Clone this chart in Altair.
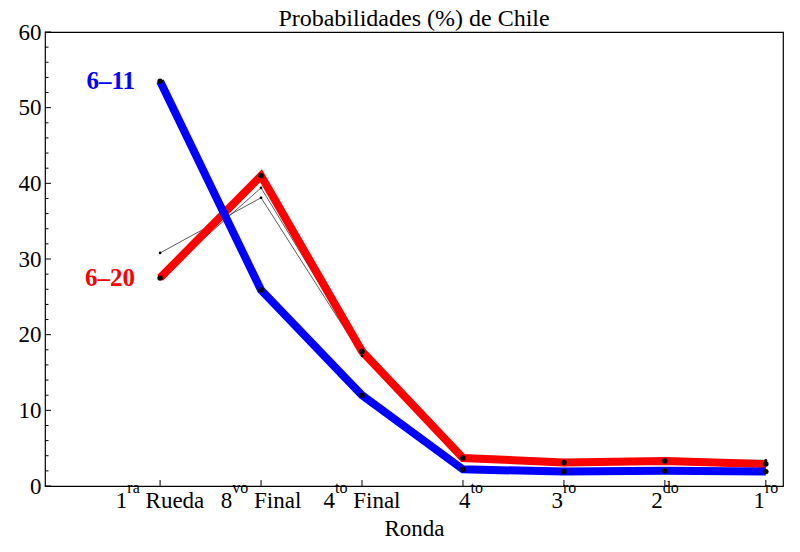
import altair as alt
import pandas as pd

# ---- data ----
rondas_base = ["1", "8", "4", "4", "3", "2", "1"]
rondas_sup = ["ra", "vo", "to", "to", "ro", "do", "ro"]
rondas_resto = ["Rueda", "Final", "Final", "", "", "", ""]
serie_611 = [53.5, 25.9, 12.0, 2.2, 1.9, 2.0, 1.9]
serie_620 = [27.5, 41.0, 17.8, 3.7, 3.1, 3.3, 2.9]
fina_a = [30.8, 38.1, 17.2, 3.6, 3.2, 3.4, 3.4]
fina_b = [27.6, 39.4, 17.5, 3.7, 3.1, 3.5, 3.3]
etiquetas = ["6–11", "6–20"]
yticks_major = [0, 10, 20, 30, 40, 50, 60]
yticks_minor = [v for v in range(0, 61, 2) if v % 10 != 0]

W, H = 738, 454
FONT = "Liberation Serif"
LBL, SUP = 23, 16

# Times / Liberation Serif advance widths (per 1000 em) for label layout
ADV = {" ": 250, "R": 667, "u": 500, "e": 444, "d": 500, "a": 444, "F": 556, "i": 278,
       "n": 500, "l": 278, "r": 333, "v": 500, "o": 500, "t": 278}
def tw(s, size):
    return sum(ADV.get(c, 500) for c in s) * size / 1000.0

def mk(vals, name):
    return pd.DataFrame({"idx": list(range(len(vals))), "valor": vals, "serie": name})

df_blue = mk(serie_611, "6–11")
df_red = mk(serie_620, "6–20")
df_thin = pd.concat([mk(fina_a, "a"), mk(fina_b, "b")])
df_lab = pd.DataFrame({
    "idx": [0, 0],
    "valor": [serie_611[0], serie_620[0]],
    "serie": etiquetas,
})

xscale = alt.Scale(domain=[-1.14, 6.17], nice=False, zero=False)
yscale = alt.Scale(domain=[0, 60], nice=False)

x_axis = alt.Axis(values=list(range(7)), labels=False, ticks=False, domain=False,
                  grid=False, title="Ronda", titleFont=FONT, titleFontSize=23,
                  titleFontWeight="normal", titleColor="black", titlePadding=31)
y_axis = alt.Axis(values=yticks_major, ticks=False, domain=False, grid=False, title=None,
                  labelFont=FONT, labelFontSize=23, labelColor="black", labelPadding=4,
                  labelFlush=False)

X = alt.X("idx:Q", scale=xscale, axis=x_axis)
Y = alt.Y("valor:Q", scale=yscale, axis=y_axis)

thin = alt.Chart(df_thin).mark_line(color="#333333", strokeWidth=0.8).encode(
    x=X, y=Y, detail="serie:N",
)
thin_pts = alt.Chart(df_thin).mark_circle(color="black", size=7, opacity=1).encode(x=X, y=Y)

red = alt.Chart(df_red).mark_line(color="#ff0000", strokeWidth=8).encode(x=X, y=Y)
blue = alt.Chart(df_blue).mark_line(color="#0000ff", strokeWidth=8).encode(x=X, y=Y)
dots = alt.Chart(pd.concat([df_red, df_blue])).mark_circle(color="black", size=30, opacity=1).encode(x=X, y=Y)

labels = alt.Chart(df_lab).mark_text(font=FONT, fontSize=25, fontWeight="bold", align="right",
                                     baseline="middle", dx=-25).encode(
    x=X, y=Y, text="serie:N",
    color=alt.Color("serie:N", scale=alt.Scale(domain=etiquetas, range=["#0000ff", "#ff0000"]), legend=None),
)

ymaj = alt.Chart(pd.DataFrame({"valor": yticks_major})).mark_rule(color="black", strokeWidth=1).encode(
    y=Y, x=alt.value(0), x2=alt.value(6))
ymin = alt.Chart(pd.DataFrame({"valor": yticks_minor})).mark_rule(color="black", strokeWidth=1).encode(
    y=Y, x=alt.value(0), x2=alt.value(3.5))
xt = alt.Chart(pd.DataFrame({"idx": list(range(7))})).mark_rule(color="black", strokeWidth=1).encode(
    x=X, y=alt.value(H), y2=alt.value(H - 6))

# tick labels with real superscripts: base + superscript + rest
shift = {3: 8}
tick_layers = []
for i, (b, s, r) in enumerate(zip(rondas_base, rondas_sup, rondas_resto)):
    wb, ws = tw(b, LBL), tw(s, SUP)
    wr = (tw(" " + r, LBL) if r else 0.0)
    start = -(wb + ws + wr) / 2 + shift.get(i, 0)
    parts = [(b, LBL, start, H + 22), (s, SUP, start + wb, H + 7)]
    if r:
        parts.append((r, LBL, start + wb + ws + tw(" ", LBL), H + 22))
    for txt, size, dx, yy in parts:
        tick_layers.append(
            alt.Chart(pd.DataFrame({"idx": [i], "t": [txt]})).mark_text(
                font=FONT, fontSize=size, align="left", baseline="alphabetic", dx=dx, color="black"
            ).encode(x=X, y=alt.value(yy), text="t:N")
        )

chart = alt.layer(thin, red, blue, dots, thin_pts, labels, ymaj, ymin, xt, *tick_layers).properties(
    width=W, height=H,
    background="white",
    title=alt.TitleParams("Probabilidades (%) de Chile", font=FONT, fontSize=24,
                          fontWeight="normal", color="black", offset=3, dy=13, anchor="middle"),
    autosize=alt.AutoSizeParams(type="none"),
    padding={"left": 37, "top": 24, "right": 9, "bottom": 62},
).configure_view(stroke="black", strokeWidth=1.2)

chart.save("out.html", embed_options={"renderer": "svg", "actions": False})
